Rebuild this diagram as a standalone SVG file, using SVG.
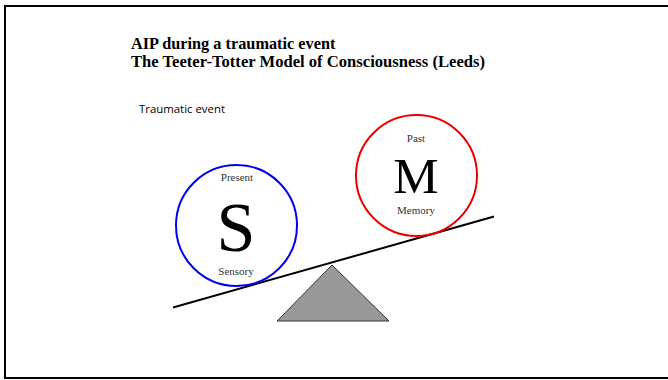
<svg xmlns="http://www.w3.org/2000/svg" width="668" height="380" viewBox="0 0 668 380">
<style>
.title{font-family:"Liberation Serif","Times New Roman",serif;font-weight:bold;font-size:16.3px;fill:#000}
.small{font-family:"Liberation Serif","Times New Roman",serif;font-size:11px;fill:#333;text-anchor:middle}
.big{font-family:"Liberation Serif","Times New Roman",serif;fill:#000;text-anchor:middle}
.sans{font-family:"Open Sans","Liberation Sans",sans-serif;font-size:11.4px;fill:#000}
</style>
<rect x="0" y="0" width="668" height="380" fill="#fff"/>
<rect x="5" y="6" width="670" height="372" fill="none" stroke="#000" stroke-width="2"/>
<text class="title" x="131" y="49">AIP during a traumatic event</text>
<text class="title" x="131" y="67" textLength="354" lengthAdjust="spacingAndGlyphs">The Teeter-Totter Model of Consciousness (Leeds)</text>
<text class="sans" x="139" y="113">Traumatic event</text>
<g id="connectors">
<line x1="173" y1="307.5" x2="494" y2="216.5" stroke="#000" stroke-width="2"/>
</g>
<g id="fulcrum">
<polygon points="332,265 277,321 389,321" fill="#999" stroke="#333" stroke-width="1"/>
</g>
<g id="sensory">
<circle cx="236.5" cy="225.5" r="60.5" fill="none" stroke="#0000ee" stroke-width="2"/>
<text class="small" x="237" y="181">Present</text>
<text class="big" x="236" y="251" font-size="70">S</text>
<text class="small" x="236" y="275">Sensory</text>
</g>
<g id="memory">
<circle cx="416.5" cy="175.5" r="60.5" fill="none" stroke="#ee0000" stroke-width="2"/>
<text class="small" x="416" y="142">Past</text>
<text class="big" x="416" y="193" font-size="51">M</text>
<text class="small" x="416" y="214">Memory</text>
</g>
</svg>
